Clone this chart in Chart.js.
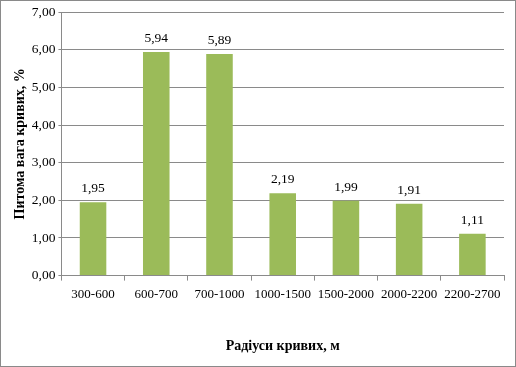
<!DOCTYPE html>
<html><head><meta charset="utf-8">
<script src="https://cdn.jsdelivr.net/npm/chart.js@4"></script>
<style>
html,body{margin:0;padding:0;background:#fff;}
#wrap{position:relative;width:514px;height:365px;border:1px solid #8a8a8a;}
</style></head>
<body><div id="wrap"><canvas id="c" width="514" height="365"></canvas></div>
<script>
const categories = ["300-600","600-700","700-1000","1000-1500","1500-2000","2000-2200","2200-2700"];
const values = [1.95, 5.94, 5.89, 2.19, 1.99, 1.91, 1.11];
const xTitle = "Радіуси кривих, м";
const yTitle = "Питома вага кривих, %";

const fmt = v => v.toFixed(2).replace('.', ',');
const serif = '"Liberation Serif", "Times New Roman", serif';

const labelPlugin = {
  id: 'valLabels',
  afterDatasetsDraw(chart) {
    const ctx = chart.ctx;
    const meta = chart.getDatasetMeta(0);
    ctx.save();
    ctx.font = '13.5px ' + serif;
    ctx.fillStyle = '#000';
    ctx.textAlign = 'center';
    ctx.textBaseline = 'alphabetic';
    meta.data.forEach((el, i) => {
      ctx.fillText(fmt(values[i]), el.x, el.y - 10);
    });
    ctx.restore();
  }
};

new Chart(document.getElementById('c'), {
  type: 'bar',
  data: {
    labels: categories,
    datasets: [{
      data: values,
      backgroundColor: '#9BBB59',
      borderWidth: 0,
      barPercentage: 0.42,
      categoryPercentage: 1.0
    }]
  },
  options: {
    responsive: false,
    animation: false,
    layout: { padding: { left: 9, right: 11, top: 8, bottom: 11 } },
    plugins: { legend: { display: false }, tooltip: { enabled: false } },
    scales: {
      x: {
        grid: { offset: true, drawOnChartArea: false, drawTicks: true, tickLength: 5, color: '#8a8a8a' },
        border: { color: '#8a8a8a' },
        ticks: { color: '#000', font: { family: serif, size: 13 }, padding: 6, maxRotation: 0 },
        title: { display: true, text: xTitle, color: '#000', font: { family: serif, size: 14, weight: 'bold' }, padding: { top: 30, bottom: 0 } }
      },
      y: {
        min: 0, max: 7,
        ticks: { stepSize: 1, color: '#000', callback: v => fmt(v), font: { family: serif, size: 13.5 }, padding: 3 },
        grid: { color: '#8a8a8a', tickLength: 3 },
        border: { color: '#8a8a8a' },
        title: { display: true, text: yTitle, color: '#000', font: { family: serif, size: 14, weight: 'bold' }, padding: { top: 2, bottom: 0 } }
      }
    }
  },
  plugins: [labelPlugin]
});
</script></body></html>
